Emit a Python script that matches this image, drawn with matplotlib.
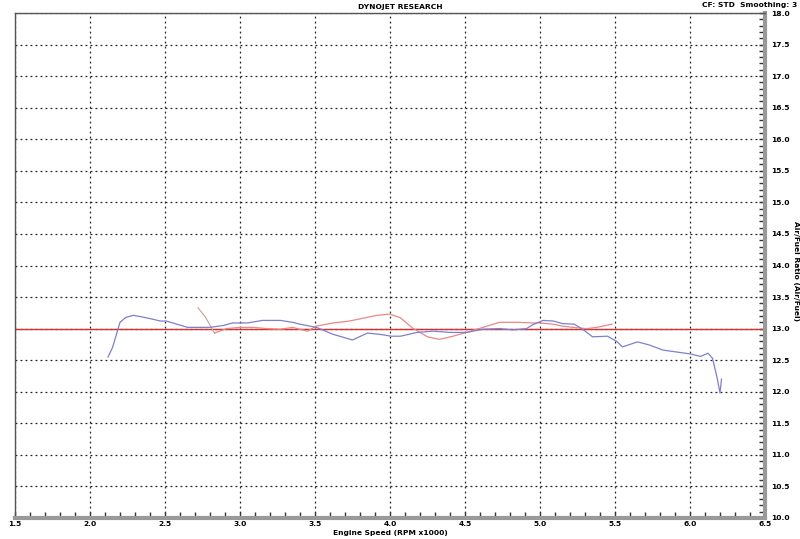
import matplotlib
matplotlib.use("Agg")
import matplotlib.pyplot as plt
from matplotlib.ticker import MultipleLocator

# blue run (rpm x1000, A/F)
blue_rpm = [2.12, 2.15, 2.2, 2.24, 2.29, 2.38, 2.47, 2.51, 2.58, 2.65, 2.8, 2.89, 2.95,
            3.05, 3.15, 3.27, 3.35, 3.4, 3.51, 3.62, 3.75, 3.85, 3.93, 4.01, 4.07, 4.18,
            4.29, 4.4, 4.51, 4.62, 4.73, 4.82, 4.91, 4.95, 5.02, 5.09, 5.15, 5.23, 5.29,
            5.35, 5.45, 5.51, 5.55, 5.65, 5.73, 5.82, 5.91, 6.0, 6.07, 6.12, 6.15, 6.18,
            6.2, 6.21]
blue_afr = [12.55, 12.7, 13.1, 13.18, 13.21, 13.17, 13.12, 13.12, 13.07, 13.02, 13.02,
            13.05, 13.09, 13.09, 13.13, 13.13, 13.1, 13.07, 13.02, 12.91, 12.82, 12.93,
            12.91, 12.88, 12.88, 12.94, 12.96, 12.94, 12.94, 12.99, 13.0, 12.98, 13.0,
            13.06, 13.13, 13.12, 13.08, 13.07, 12.98, 12.87, 12.88, 12.8, 12.71, 12.79,
            12.74, 12.66, 12.63, 12.6, 12.56, 12.61, 12.53, 12.23, 11.98, 12.2]

# red run
red_rpm = [2.83, 2.91, 3.0, 3.09, 3.18, 3.27, 3.35, 3.45, 3.51, 3.62, 3.73, 3.85, 3.91,
           4.0, 4.07, 4.15, 4.25, 4.33, 4.42, 4.51, 4.62, 4.73, 4.85, 4.95, 5.0, 5.09,
           5.15, 5.22, 5.31, 5.38, 5.48]
red_afr = [12.93, 13.0, 13.02, 13.02, 13.0, 12.99, 13.02, 12.96, 13.04, 13.09, 13.12,
           13.18, 13.21, 13.23, 13.17, 13.01, 12.87, 12.83, 12.88, 12.94, 13.02, 13.1,
           13.1, 13.09, 13.09, 13.07, 13.04, 13.02, 13.0, 13.02, 13.07]

# short lead-in segment of red run
lead_rpm = [2.72, 2.77, 2.83]
lead_afr = [13.33, 13.18, 12.93]

target_afr = 13.0

FS = 5.4

fig = plt.figure(figsize=(8, 5.39), dpi=100)
ax = fig.add_axes([15 / 800, 21 / 539, 750 / 800, 505 / 539])

ax.axhline(target_afr, color="#d83030", lw=1.0, zorder=2)
ax.plot(lead_rpm, lead_afr, color="#c8aa9c", lw=0.9, zorder=3)
ax.plot(red_rpm, red_afr, color="#e88888", lw=0.9, zorder=3)
ax.plot(blue_rpm, blue_afr, color="#7c80cc", lw=0.9, zorder=4)

ax.set_xlim(1.5, 6.5)
ax.set_ylim(10.0, 18.0)
ax.xaxis.set_major_locator(MultipleLocator(0.5))
ax.xaxis.set_minor_locator(MultipleLocator(0.1))
ax.yaxis.set_major_locator(MultipleLocator(0.5))
ax.yaxis.set_minor_locator(MultipleLocator(0.1))
ax.yaxis.tick_right()
ax.yaxis.set_label_position("right")
ax.xaxis.set_major_formatter(plt.FormatStrFormatter("%.1f"))
ax.yaxis.set_major_formatter(plt.FormatStrFormatter("%.1f"))

ax.grid(True, which="major", color="#222222", ls=(0, (1.5, 2.5)), lw=0.9)

for s in ["top", "left"]:
    ax.spines[s].set_color("#555555")
    ax.spines[s].set_linewidth(1.0)
for s in ["bottom", "right"]:
    ax.spines[s].set_color("#999999")
    ax.spines[s].set_linewidth(3.0)

ax.tick_params(axis="both", which="both", direction="in", color="#333333",
               labelsize=FS)
ax.tick_params(which="major", length=4, width=1)
ax.tick_params(which="minor", length=4, width=1)
ax.tick_params(axis="x", pad=2.5)
ax.tick_params(axis="y", pad=4.5)
for lbl in ax.get_xticklabels() + ax.get_yticklabels():
    lbl.set_fontweight("bold")

ax.set_xlabel("Engine Speed (RPM x1000)", fontsize=FS, fontweight="bold")
ax.set_ylabel("Air/Fuel Ratio (Air/Fuel)", fontsize=FS, fontweight="bold",
              rotation=-90, va="center", ha="center")
ax.xaxis.set_label_coords(0.5, -0.0295)
ax.yaxis.set_label_coords(1.0413, 0.49)
ax.xaxis.label.set_va("center")

fig.text(0.5, 0.993, "DYNOJET RESEARCH", ha="center", va="top",
         fontsize=FS, fontweight="bold")
fig.text(0.997, 0.997, "CF: STD  Smoothing: 3", ha="right", va="top",
         fontsize=FS, fontweight="bold")

fig.savefig("out.png", dpi=100)
